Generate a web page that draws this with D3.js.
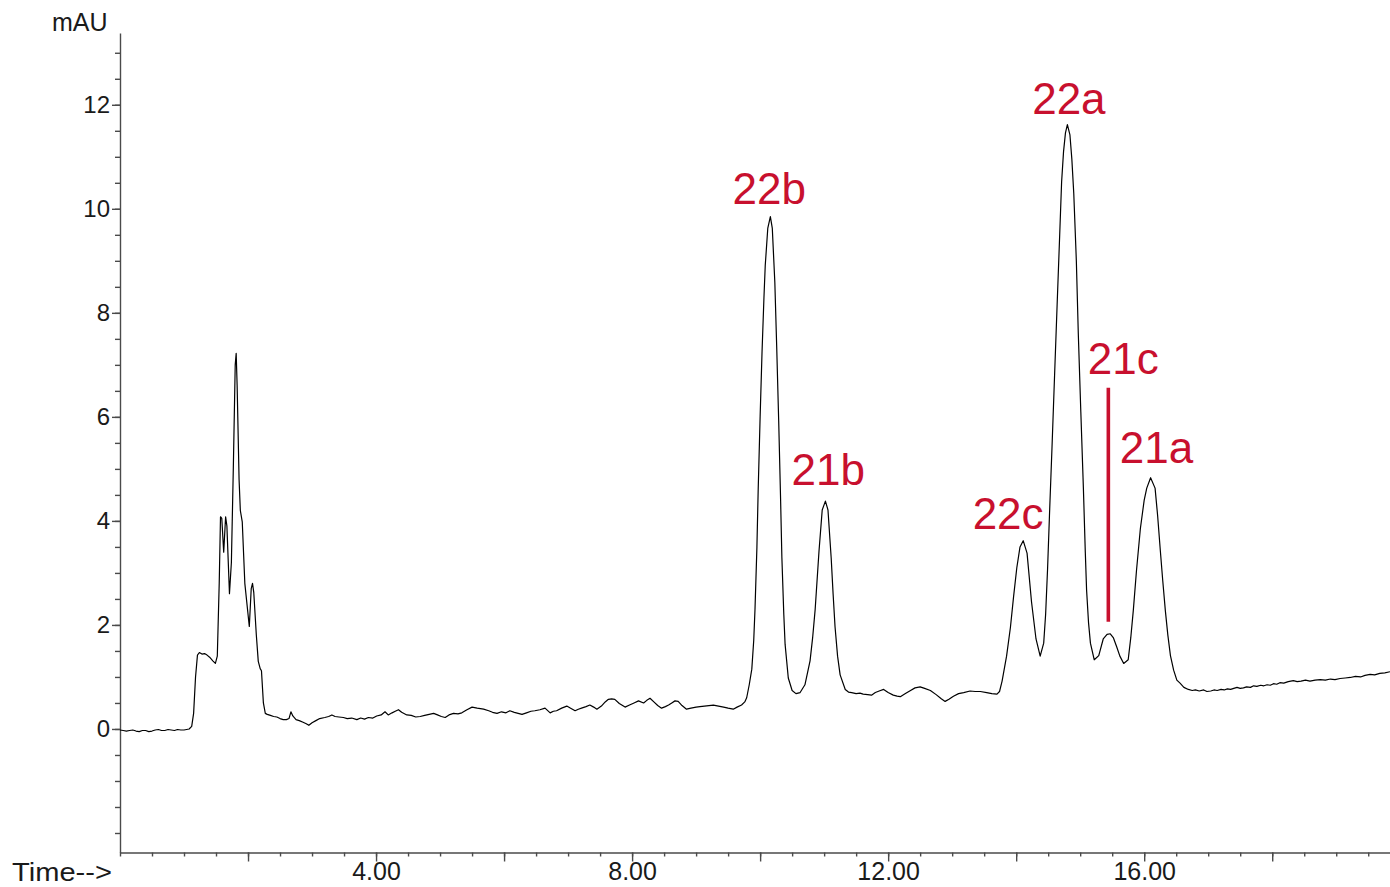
<!DOCTYPE html>
<html>
<head>
<meta charset="utf-8">
<script src="https://cdn.jsdelivr.net/npm/d3@7"></script>
<style>
	html, body { margin: 0; padding: 0; background: #fff; }
	svg { display: block; font-family: "Liberation Sans", Arial, Helvetica, sans-serif; }
</style>
</head>
<body>
<div id="chart"></div>
<script>
// chromatogram trace: [retention time (min), signal (mAU)]
const trace = [
	[0.00, -0.02], [0.05, -0.03], [0.10, -0.04], [0.15, -0.03], [0.20, -0.02], [0.25, -0.04], [0.30, -0.05], [0.35, -0.03],
	[0.40, -0.03], [0.45, -0.05], [0.50, -0.04], [0.55, -0.02], [0.60, -0.01], [0.65, -0.03], [0.70, -0.03], [0.75, -0.01],
	[0.80, -0.02], [0.85, -0.03], [0.90, -0.01], [0.95, -0.02], [1.00, -0.02], [1.04, -0.01], [1.08, 0.00], [1.12, 0.05],
	[1.15, 0.30], [1.18, 1.00], [1.21, 1.42], [1.24, 1.47], [1.28, 1.44], [1.32, 1.45], [1.36, 1.42], [1.40, 1.38],
	[1.45, 1.31], [1.49, 1.26], [1.52, 1.40], [1.55, 2.80], [1.57, 4.08], [1.59, 4.05], [1.62, 3.40], [1.65, 4.08],
	[1.67, 3.90], [1.71, 2.60], [1.74, 3.20], [1.77, 5.00], [1.80, 7.00], [1.815, 7.22], [1.83, 6.60], [1.86, 4.80],
	[1.88, 4.20], [1.91, 3.98], [1.95, 2.80], [2.02, 1.97], [2.05, 2.70], [2.07, 2.80], [2.09, 2.62], [2.13, 1.80],
	[2.16, 1.30], [2.19, 1.16], [2.21, 1.12], [2.24, 0.50], [2.27, 0.30], [2.30, 0.28], [2.35, 0.26], [2.40, 0.24],
	[2.45, 0.23], [2.50, 0.20], [2.55, 0.18], [2.60, 0.18], [2.64, 0.20], [2.67, 0.33], [2.70, 0.25], [2.75, 0.18],
	[2.80, 0.16], [2.86, 0.13], [2.91, 0.10], [2.95, 0.07], [3.00, 0.12], [3.06, 0.16], [3.12, 0.20], [3.20, 0.22],
	[3.26, 0.24], [3.31, 0.27], [3.36, 0.24], [3.42, 0.23], [3.49, 0.22], [3.55, 0.20], [3.62, 0.21], [3.70, 0.18],
	[3.76, 0.21], [3.82, 0.19], [3.88, 0.22], [3.95, 0.21], [4.01, 0.25], [4.08, 0.27], [4.14, 0.33], [4.19, 0.27],
	[4.25, 0.31], [4.30, 0.34], [4.35, 0.37], [4.40, 0.32], [4.48, 0.27], [4.55, 0.26], [4.62, 0.23], [4.69, 0.24],
	[4.76, 0.26], [4.83, 0.28], [4.90, 0.30], [4.96, 0.27], [5.02, 0.24], [5.08, 0.22], [5.14, 0.27], [5.21, 0.30],
	[5.28, 0.29], [5.34, 0.31], [5.42, 0.37], [5.50, 0.42], [5.58, 0.40], [5.68, 0.38], [5.76, 0.35], [5.82, 0.32],
	[5.89, 0.30], [5.96, 0.33], [6.03, 0.31], [6.09, 0.35], [6.16, 0.32], [6.22, 0.30], [6.28, 0.28], [6.35, 0.31],
	[6.42, 0.34], [6.48, 0.35], [6.56, 0.37], [6.64, 0.40], [6.72, 0.31], [6.77, 0.34], [6.82, 0.35], [6.90, 0.40],
	[6.98, 0.44], [7.04, 0.40], [7.11, 0.35], [7.16, 0.38], [7.21, 0.40], [7.28, 0.43], [7.34, 0.46], [7.40, 0.42],
	[7.45, 0.38], [7.52, 0.44], [7.58, 0.52], [7.63, 0.57], [7.68, 0.58], [7.73, 0.57], [7.80, 0.49], [7.89, 0.42],
	[7.96, 0.46], [8.03, 0.50], [8.10, 0.54], [8.18, 0.50], [8.23, 0.55], [8.28, 0.59], [8.34, 0.52], [8.40, 0.45],
	[8.46, 0.40], [8.52, 0.43], [8.57, 0.46], [8.62, 0.50], [8.67, 0.54], [8.72, 0.53], [8.78, 0.45], [8.85, 0.38],
	[8.92, 0.40], [9.00, 0.42], [9.06, 0.43], [9.13, 0.44], [9.20, 0.45], [9.27, 0.46], [9.35, 0.44], [9.43, 0.42],
	[9.50, 0.40], [9.58, 0.38], [9.64, 0.42], [9.71, 0.46], [9.76, 0.52], [9.79, 0.60], [9.83, 0.85], [9.87, 1.15],
	[9.90, 1.70], [9.92, 2.30], [9.95, 3.50], [9.97, 4.61], [10.00, 6.00], [10.03, 7.25], [10.06, 8.30], [10.08, 8.91],
	[10.12, 9.63], [10.16, 9.85], [10.19, 9.63], [10.23, 8.58], [10.26, 7.30], [10.29, 5.93], [10.32, 4.40], [10.34, 3.29],
	[10.37, 2.20], [10.39, 1.63], [10.44, 0.98], [10.50, 0.74], [10.56, 0.68], [10.625, 0.70], [10.70, 0.85], [10.78, 1.31],
	[10.82, 1.75], [10.86, 2.30], [10.92, 3.42], [10.97, 4.21], [11.02, 4.38], [11.06, 4.21], [11.11, 3.29], [11.14, 2.60],
	[11.17, 1.97], [11.21, 1.40], [11.25, 1.04], [11.33, 0.76], [11.38, 0.71], [11.43, 0.70], [11.50, 0.68], [11.56, 0.69],
	[11.61, 0.67], [11.68, 0.66], [11.74, 0.65], [11.80, 0.70], [11.86, 0.73], [11.93, 0.76], [12.00, 0.70], [12.08, 0.65],
	[12.14, 0.63], [12.19, 0.62], [12.27, 0.68], [12.35, 0.74], [12.42, 0.79], [12.50, 0.81], [12.57, 0.78], [12.66, 0.74],
	[12.75, 0.66], [12.83, 0.58], [12.89, 0.53], [12.95, 0.57], [13.02, 0.63], [13.10, 0.68], [13.18, 0.70], [13.28, 0.73],
	[13.36, 0.72], [13.44, 0.72], [13.54, 0.70], [13.62, 0.68], [13.70, 0.67], [13.74, 0.72], [13.78, 0.92], [13.85, 1.40],
	[13.91, 1.95], [13.96, 2.55], [14.01, 3.10], [14.06, 3.50], [14.11, 3.62], [14.17, 3.38], [14.24, 2.44], [14.31, 1.73],
	[14.375, 1.40], [14.43, 1.65], [14.46, 2.20], [14.49, 3.06], [14.52, 4.10], [14.56, 5.42], [14.60, 6.80], [14.64, 8.16],
	[14.68, 9.50], [14.71, 10.52], [14.74, 11.10], [14.77, 11.46], [14.80, 11.62], [14.84, 11.42], [14.87, 10.95], [14.90, 10.29],
	[14.94, 9.00], [14.97, 7.62], [15.01, 6.10], [15.05, 4.63], [15.08, 3.40], [15.10, 2.67], [15.13, 2.05], [15.16, 1.65],
	[15.22, 1.33], [15.29, 1.41], [15.36, 1.73], [15.42, 1.82], [15.47, 1.83], [15.52, 1.75], [15.57, 1.58], [15.62, 1.40],
	[15.68, 1.26], [15.75, 1.33], [15.79, 1.75], [15.83, 2.28], [15.88, 3.05], [15.94, 3.85], [16.00, 4.40], [16.04, 4.63],
	[16.10, 4.83], [16.17, 4.63], [16.21, 4.10], [16.25, 3.46], [16.29, 2.85], [16.33, 2.28], [16.37, 1.80], [16.41, 1.41],
	[16.46, 1.13], [16.51, 0.94], [16.56, 0.88], [16.62, 0.80], [16.69, 0.76], [16.75, 0.74], [16.80, 0.75], [16.86, 0.73],
	[16.93, 0.75], [16.98, 0.72], [17.04, 0.73], [17.09, 0.75], [17.14, 0.74], [17.20, 0.76], [17.25, 0.75], [17.30, 0.77],
	[17.35, 0.76], [17.40, 0.78], [17.45, 0.80], [17.50, 0.78], [17.55, 0.79], [17.60, 0.81], [17.66, 0.80], [17.71, 0.83],
	[17.76, 0.82], [17.82, 0.84], [17.87, 0.83], [17.92, 0.85], [17.97, 0.84], [18.02, 0.87], [18.07, 0.86], [18.12, 0.89],
	[18.18, 0.88], [18.25, 0.91], [18.33, 0.93], [18.39, 0.91], [18.45, 0.92], [18.52, 0.94], [18.59, 0.92], [18.67, 0.94],
	[18.75, 0.95], [18.83, 0.94], [18.91, 0.96], [18.98, 0.95], [19.06, 0.97], [19.14, 0.98], [19.22, 0.99], [19.30, 1.01],
	[19.38, 1.00], [19.45, 1.03], [19.53, 1.05], [19.60, 1.04], [19.68, 1.07], [19.76, 1.08], [19.84, 1.10]
];

// peak names and where their text sits (time, mAU of the text's baseline-left corner)
const peakNames = ['22b', '21b', '22a', '22c', '21c', '21a'];
const peakTextTime = [9.57, 10.49, 14.25, 13.32, 15.12, 15.62];
const peakTextMau = [10.10, 4.69, 11.83, 3.85, 6.82, 5.11];
// marker line under 21c
const markerTime = 15.44;
const markerMau = [2.06, 6.56];

const yTickLabels = [0, 2, 4, 6, 8, 10, 12];
const xTickLabels = [4, 8, 12, 16];

const width = 1390;
const height = 887;
const red = '#c8102e';
const axisColor = '#4a4a4a';

const x = d3.scaleLinear().domain([0, 19.84]).range([120, 1390]);
const y = d3.scaleLinear().domain([-2.375, 13.38]).range([852.5, 33]);

const svg = d3.select('#chart').append('svg')
	.attr('width', width)
	.attr('height', height);

// y axis: minor every 0.5, longer ticks where labelled
svg.append('g')
	.attr('transform', `translate(${x(0)},0)`)
	.call(d3.axisLeft(y).tickValues(d3.range(-2, 13.01, 0.5)).tickSize(5).tickSizeOuter(0).tickFormat(''));
const yMajor = svg.append('g')
	.attr('transform', `translate(${x(0)},0)`)
	.call(d3.axisLeft(y).tickValues(yTickLabels).tickSize(8).tickPadding(2).tickFormat(d3.format('d')));
yMajor.select('.domain').remove();

// x axis
svg.append('g')
	.attr('transform', `translate(0,${y(-2.375)})`)
	.call(d3.axisBottom(x).tickValues(d3.range(0, 19.8, 0.5)).tickSize(4).tickSizeOuter(0).tickFormat(''));
const xMajor = svg.append('g')
	.attr('transform', `translate(0,${y(-2.375)})`)
	.call(d3.axisBottom(x).tickValues(d3.range(2, 19.8, 2)).tickSize(9).tickPadding(1)
		.tickFormat(d => xTickLabels.includes(d) ? d3.format('.2f')(d) : ''));
xMajor.select('.domain').remove();

svg.selectAll('.domain, .tick line')
	.attr('stroke', axisColor)
	.attr('stroke-width', 1.4);
yMajor.selectAll('text')
	.attr('font-size', 24)
	.attr('font-family', null)
	.attr('fill', '#1a1a1a');
xMajor.selectAll('text')
	.attr('font-size', 25)
	.attr('font-family', null)
	.attr('fill', '#1a1a1a');

svg.append('text')
	.attr('x', 52)
	.attr('y', 31)
	.attr('font-size', 25)
	.attr('fill', '#1a1a1a')
	.text('mAU');
svg.append('text')
	.attr('x', 12)
	.attr('y', 881)
	.attr('font-size', 25)
	.attr('textLength', 100)
	.attr('lengthAdjust', 'spacingAndGlyphs')
	.attr('fill', '#1a1a1a')
	.text('Time-->');

// trace
const line = d3.line()
	.x(d => x(d[0]))
	.y(d => y(d[1]));
svg.append('path')
	.datum(trace)
	.attr('d', line)
	.attr('fill', 'none')
	.attr('stroke', '#000')
	.attr('stroke-width', 1.2)
	.attr('stroke-linejoin', 'round');

// peak labels
svg.append('g').selectAll('text')
	.data(peakNames)
	.join('text')
	.attr('x', (d, i) => x(peakTextTime[i]))
	.attr('y', (d, i) => y(peakTextMau[i]))
	.attr('font-size', 44)
	.attr('fill', red)
	.text(d => d);

svg.append('line')
	.attr('x1', x(markerTime))
	.attr('x2', x(markerTime))
	.attr('y1', y(markerMau[0]))
	.attr('y2', y(markerMau[1]))
	.attr('stroke', red)
	.attr('stroke-width', 3.6);
</script>
</body>
</html>
